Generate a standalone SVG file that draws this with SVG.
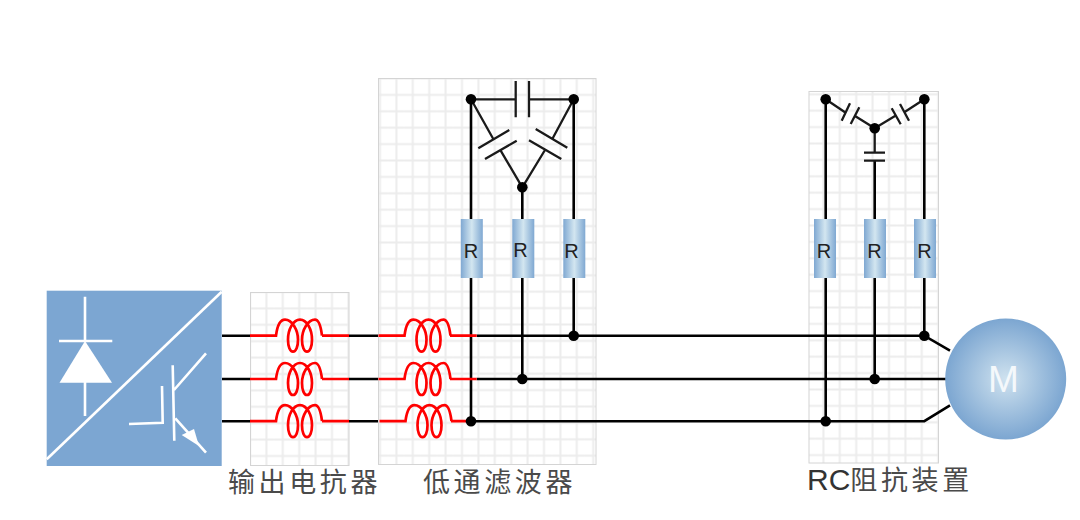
<svg xmlns="http://www.w3.org/2000/svg" xmlns:xlink="http://www.w3.org/1999/xlink" width="1080" height="520" viewBox="0 0 1080 520">
<style>
.w{fill:none;stroke:#000;stroke-width:2.6}
.c{fill:none;stroke:#1a1a1a;stroke-width:2.3}
.d{fill:#000}
.i{fill:none;stroke:#f00;stroke-width:2.7}
.v{fill:none;stroke:#fff;stroke-width:2.6}
.r{font:20px "Liberation Sans",sans-serif;fill:#222;text-anchor:middle}
.t{font:27px "Noto Sans CJK SC","Liberation Sans",sans-serif;fill:#4a4a4a;letter-spacing:3.6px}
</style>
<defs>
<pattern id="g1" width="16.4" height="16.4" patternUnits="userSpaceOnUse" x="258.2" y="300.2"><path d="M8.2 0V16.4M0 8.2H16.4" fill="none" stroke="#ececec" stroke-width="2"/></pattern>
<pattern id="g2" width="16.4" height="16.4" patternUnits="userSpaceOnUse" x="388.200" y="86.700"><path d="M8.2 0V16.4M0 8.2H16.4" fill="none" stroke="#ececec" stroke-width="2"/></pattern>
<pattern id="g3" width="16.4" height="16.4" patternUnits="userSpaceOnUse" x="815.200" y="102.500"><path d="M8.2 0V16.4M0 8.2H16.4" fill="none" stroke="#ececec" stroke-width="2"/></pattern>
<linearGradient id="rg"><stop offset="0" stop-color="#7fa8d2"/><stop offset=".5" stop-color="#d3e6f0"/><stop offset="1" stop-color="#7fa8d2"/></linearGradient>
<radialGradient id="mg"><stop offset="0" stop-color="#cfe2ef"/><stop offset="1" stop-color="#7ca6d1"/></radialGradient>
<path id="coil" d="M0 0H26 C27 -8 29 -16 35 -16 C42 -16 48 -6 48 4 C48 11 46 16 43 16 C40 16 38 11 38 4 C38 -6 43 -16 50 -16 C57 -16 62 -6 62 4 C62 11 60 16 57 16 C54 16 52 11 52 4 C52 -6 58 -16 65 -16 C69 -16 71 -8 72 0" class="i"/>
<g id="res"><rect x="-11" y="0" width="22" height="59" fill="url(#rg)"/></g>
</defs>
<g id="panel-reactor"><rect x="250.500" y="292.500" width="98.500" height="173" fill="url(#g1)" stroke="#d4d4d4"/></g>
<g id="panel-filter"><rect x="378.500" y="78.500" width="217.500" height="386" fill="url(#g2)" stroke="#d4d4d4"/></g>
<g id="panel-rc"><rect x="809" y="91.500" width="129.500" height="371.500" fill="url(#g3)" stroke="#d4d4d4"/></g>
<g id="connectors">
<path class="w" d="M222 335.700H250M349 335.700H378M476.700 335.700H924.300L950 350.700M222 379H250M349 379H378M476.700 379H946M222 421.200H250M349 421.200H378M471 421.200H924.300L950 405.300"/>
<path class="w" d="M471 99.300V421.200M522.300 187.300V379M573.700 99.300V335.700"/>
<path class="w" d="M825.700 99.300V421.200M874.700 160.700V379M924.300 99.300V335.700"/>
<path class="c" d="M471 99.300H515.700M515.700 81V117.300M529 81V117.300M529 99.300H573.700"/>
<path class="c" d="M471 99.300L493.300 139M478.300 148.300L509.300 130M485 159L516.700 140.700M500.700 150.700L522.300 187.300"/>
<path class="c" d="M573.700 99.300L552.700 138.300M535.700 129L567.300 147.700M529 140.300L561.300 159M545 150L522.300 187.300"/>
<path class="c" d="M825.700 99.300L845 112.300M850 103.300L841.700 120.700M859.300 107.300L850.700 124M855 116L874.700 128.300"/>
<path class="c" d="M924.300 99.300L905 111.700M900 104L909 120.700M891.700 108.300L900.700 124.300M895 116L874.700 128.300"/>
<path class="c" d="M874.700 128.300V152.700M864 152.700H885M864 160.700H885"/>
</g>
<g id="inductors">
<path class="i" d="M322 335.700H349M322 379H349M322 421.200H349"/>
<use xlink:href="#coil" href="#coil" x="250" y="335.700"/>
<use xlink:href="#coil" href="#coil" x="250" y="379"/>
<use xlink:href="#coil" href="#coil" x="250" y="421.200"/>
<use xlink:href="#coil" href="#coil" x="378.500" y="335.700"/>
<use xlink:href="#coil" href="#coil" x="378.500" y="379"/>
<use xlink:href="#coil" href="#coil" x="379.500" y="421.200"/>
<path class="i" d="M450 335.700H476.700M450 379H476.700M451 421.200H471"/>
</g>
<g id="junctions">
<circle class="d" cx="471" cy="99.300" r="5.300"/><circle class="d" cx="573.700" cy="99.300" r="5.300"/><circle class="d" cx="522.300" cy="187.300" r="5.300"/>
<circle class="d" cx="573.700" cy="335.700" r="5.300"/><circle class="d" cx="522.300" cy="379" r="5.300"/><circle class="d" cx="471" cy="421.200" r="5.300"/>
<circle class="d" cx="825.700" cy="99.300" r="5.300"/><circle class="d" cx="924.300" cy="99.300" r="5.300"/><circle class="d" cx="874.700" cy="128.300" r="5.300"/>
<circle class="d" cx="924.300" cy="335.700" r="5.300"/><circle class="d" cx="874.700" cy="379" r="5.300"/><circle class="d" cx="825.700" cy="421.200" r="5.300"/>
</g>
<g id="converter">
<rect x="46.700" y="290.700" width="175" height="175.300" fill="#7ca6d2"/>
<path class="v" d="M46.700 459.300L221.700 291.700"/>
<path class="v" d="M85 296.700V341M85 382V416M59 341H112.300"/>
<path d="M85 341L112 382.700H59.500Z" fill="#fff"/>
<path class="v" d="M129 424L162.700 422.700L162 386M172.700 365.300L174.300 440.700M174 390L206 353.300M175.300 418.300L206 452.700"/>
<path d="M181.700 435L194 429L199 446Z" fill="#fff"/>
</g>
<g id="r1"><use href="#res" x="471.800" y="219"/><text class="r" x="471" y="258.300">R</text></g>
<g id="r2"><use href="#res" x="523.300" y="219"/><text class="r" x="520.500" y="256.700">R</text></g>
<g id="r3"><use href="#res" x="574.300" y="219"/><text class="r" x="571.500" y="258.300">R</text></g>
<g id="r4"><use href="#res" x="825" y="219"/><text class="r" x="824" y="258.300">R</text></g>
<g id="r5"><use href="#res" x="875" y="219"/><text class="r" x="874.500" y="258.300">R</text></g>
<g id="r6"><use href="#res" x="925" y="219"/><text class="r" x="924.500" y="258.300">R</text></g>
<g id="motor"><circle cx="1005.700" cy="379" r="60.500" fill="url(#mg)"/><text x="1003.500" y="391.700" font-family="Liberation Sans,sans-serif" font-size="37" fill="#f4f8fb" text-anchor="middle">M</text></g>
<g id="labels">
<text class="t" x="228" y="492">输出电抗器</text>
<text class="t" x="423" y="492">低通滤波器</text>
<text class="t" x="807" y="490"><tspan font-family="Liberation Sans" style="letter-spacing:0;font-size:30px;fill:#333">RC</tspan>阻抗装置</text>
</g>
</svg>
